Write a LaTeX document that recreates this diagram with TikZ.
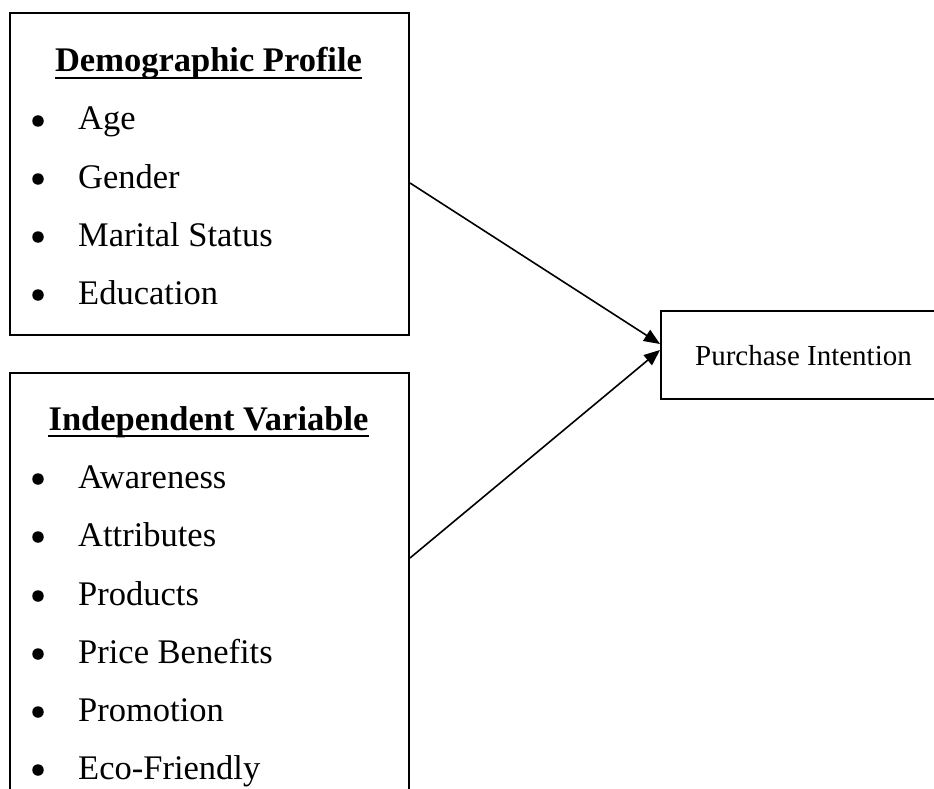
\documentclass[tikz,border=0pt]{standalone}
\usepackage{fontspec}
\setmainfont{Liberation Serif}
\usetikzlibrary{arrows.meta}
\begin{document}
\begin{tikzpicture}[x=1pt,y=-1pt,
  box/.style={draw,line width=2pt,rectangle,inner sep=0pt,anchor=north west},
  ttl/.style={font=\fontsize{34.5}{40}\selectfont\bfseries,anchor=base,inner sep=0pt},
  item/.style={font=\fontsize{34.5}{40}\selectfont,anchor=base west,inner sep=0pt},
  bul/.style={circle,fill=black,inner sep=0pt,minimum size=11.5pt},
  ul/.style={line width=2.5pt},
  conn/.style={line width=1.6pt,-{Triangle[length=16pt,width=13pt]}},
  pitext/.style={font=\fontsize{29}{34}\selectfont,anchor=base,inner sep=0pt}]
\useasboundingbox (0,0) rectangle (934,789);

% Demographic profile box
\node[box,minimum width=399pt,minimum height=322pt] (dp) at (9,12) {};
\node[ttl] (dpt) at (208.5,72) {Demographic Profile};
\draw[ul] ([yshift=-6pt]dpt.base west) -- ([yshift=-6pt]dpt.base east);
\foreach \t/\y [count=\i] in {Age/130,Gender/188,Marital Status/246,Education/304}{
  \node[bul] (dpb\i) at (38,\y-9) {};
  \node[item] (dpi\i) at (78,\y) {\t};
}

% Independent variable box (continues past the bottom edge)
\node[box,minimum width=399pt,minimum height=460pt] (iv) at (9,372) {};
\node[ttl] (ivt) at (208.5,430) {Independent Variable};
\draw[ul] ([yshift=-6pt]ivt.base west) -- ([yshift=-6pt]ivt.base east);
\foreach \t/\y [count=\i] in {Awareness/488,Attributes/546,Products/605,Price Benefits/663,Promotion/721,Eco-Friendly/779}{
  \node[bul] (ivb\i) at (38,\y-9) {};
  \node[item] (ivi\i) at (78,\y) {\t};
}

% Purchase intention box (continues past the right edge)
\node[box,minimum width=300pt,minimum height=88pt] (pi) at (660,310) {};
\node[pitext] (pit) at (803.5,365) {Purchase Intention};

% connectors
\draw[conn] ([yshift=-9pt]dp.east) -- ([yshift=11pt]pi.west);
\draw[conn] ([yshift=-186pt]iv.north east) -- ([yshift=5pt]pi.west);
\end{tikzpicture}
\end{document}
